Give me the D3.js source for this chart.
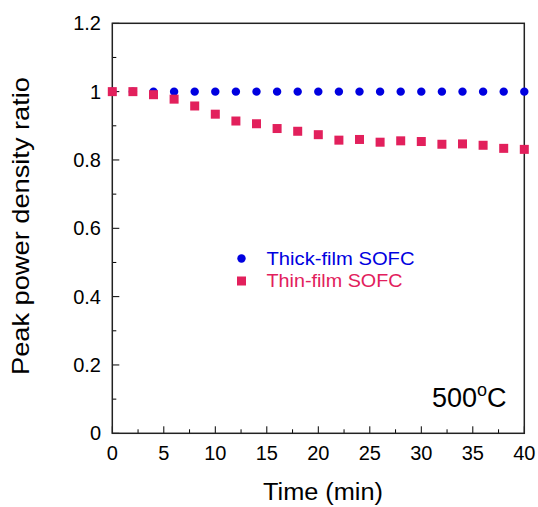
<!DOCTYPE html>
<html><head><meta charset="utf-8">
<script src="https://cdn.jsdelivr.net/npm/d3@7"></script>
<style>body{margin:0;background:#fff}svg{display:block}text{font-family:"Liberation Sans",Arial,sans-serif}</style>
</head><body><svg id="c" width="538" height="507"></svg>
<script>
const times = [0,2,4,6,8,10,12,14,16,18,20,22,24,26,28,30,32,34,36,38,40];
const thickFilm = [1,1,1,1,1,1,1,1,1,1,1,1,1,1,1,1,1,1,1,1,1];
const thinFilm = [1.0,1.0,0.991,0.978,0.958,0.934,0.914,0.906,0.892,0.884,0.874,0.858,0.860,0.852,0.856,0.854,0.846,0.847,0.843,0.834,0.831];
const seriesNames = ["Thick-film SOFC","Thin-film SOFC"];
const xTicks = [0,5,10,15,20,25,30,35,40];
const yTicks = [0,0.2,0.4,0.6,0.8,1,1.2];
const xMinor = d3.range(0,40.01,2.5);
const yMinor = d3.range(0,1.201,0.1);

const svg = d3.select("#c");
const L=112.3,R=524.3,T=23.3,B=433.3;
const x = d3.scaleLinear().domain([0,40]).range([L,R]);
const y = d3.scaleLinear().domain([0,1.2]).range([B,T]);
const blue="#0000e0", pink="#e2205c";

// minor ticks
svg.append("g").selectAll("line").data(xMinor).join("line")
 .attr("x1",d=>x(d)).attr("x2",d=>x(d)).attr("y1",B).attr("y2",d=>B-(d%5===0?7:4))
 .attr("stroke","#000").attr("stroke-width",1);
svg.append("g").selectAll("line").data(yMinor).join("line")
 .attr("y1",d=>y(d)).attr("y2",d=>y(d)).attr("x1",L).attr("x2",(d,i)=>L+(i%2===0?7:4))
 .attr("stroke","#000").attr("stroke-width",1);

// frame
svg.append("rect").attr("x",L).attr("y",T).attr("width",R-L).attr("height",B-T)
 .attr("fill","none").attr("stroke","#222").attr("stroke-width",1.5);

// tick labels
svg.append("g").selectAll("text").data(xTicks).join("text")
 .attr("x",d=>x(d)).attr("y",460).attr("text-anchor","middle").attr("font-size",20).text(d=>d);
svg.append("g").selectAll("text").data(yTicks).join("text")
 .attr("x",101).attr("y",d=>y(d)+7).attr("text-anchor","end").attr("font-size",20).text(d=>d);

// titles
svg.append("text").attr("x",263).attr("y",500).attr("font-size",23.5)
 .attr("textLength",120).attr("lengthAdjust","spacingAndGlyphs").text("Time (min)");
svg.append("text").attr("transform","translate(29,375) rotate(-90)").attr("font-size",24)
 .attr("textLength",298).attr("lengthAdjust","spacingAndGlyphs").text("Peak power density ratio");

// data
svg.append("g").selectAll("circle").data(times).join("circle")
 .attr("cx",d=>x(d)).attr("cy",(d,i)=>y(thickFilm[i])).attr("r",4.2).attr("fill",blue);
svg.append("g").selectAll("rect").data(times).join("rect")
 .attr("x",d=>x(d)-4.5).attr("y",(d,i)=>y(thinFilm[i])-4.5).attr("width",9).attr("height",9).attr("fill",pink);

// legend
svg.append("circle").attr("cx",241.5).attr("cy",258.5).attr("r",4.2).attr("fill",blue);
svg.append("rect").attr("x",237).attr("y",276.5).attr("width",9).attr("height",9).attr("fill",pink);
svg.append("text").attr("x",266.5).attr("y",264.5).attr("font-size",19)
 .attr("textLength",148).attr("lengthAdjust","spacingAndGlyphs").attr("fill",blue).text(seriesNames[0]);
svg.append("text").attr("x",266.5).attr("y",286.7).attr("font-size",19)
 .attr("textLength",136).attr("lengthAdjust","spacingAndGlyphs").attr("fill",pink).text(seriesNames[1]);

// annotation
const ann = svg.append("text").attr("x",432).attr("y",406.5).attr("font-size",27);
ann.append("tspan").text("500");
ann.append("tspan").attr("dy",-11).attr("font-size",18).text("o");
ann.append("tspan").attr("dy",11).text("C");
</script></body></html>
